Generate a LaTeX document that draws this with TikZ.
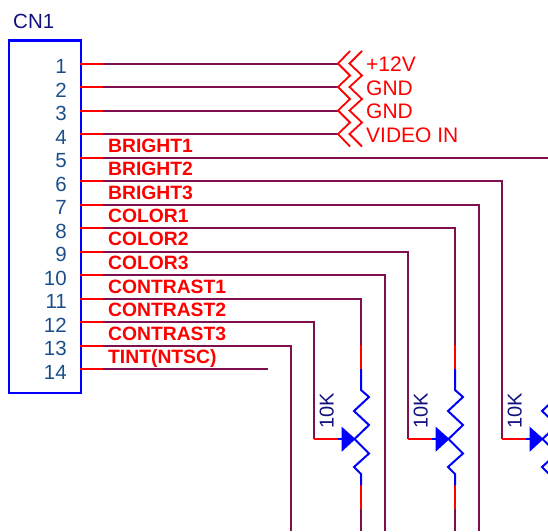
\documentclass[tikz,border=0pt]{standalone}
\usepackage{fontspec}
\setmainfont{Liberation Sans}
\definecolor{wirec}{HTML}{7F0F4F}
\definecolor{numc}{HTML}{1B4F8A}
\definecolor{refc}{HTML}{10107F}
\tikzset{
  wire/.style={draw=wirec,line width=2pt},
  stub/.style={draw=red,line width=2pt},
  body/.style={draw=blue,line width=2pt,line join=miter},
  chev/.style={draw=red,line width=1.8pt,line join=miter},
  pinnum/.style={anchor=base east,inner sep=0pt,text=numc,font=\fontsize{20.5}{20.5}\selectfont},
  netlab/.style={anchor=base west,inner sep=0pt,text=red,font=\fontsize{19.3}{19.3}\selectfont\bfseries},
  conlab/.style={anchor=base west,inner sep=0pt,text=red,font=\fontsize{21}{21}\selectfont},
  vallab/.style={anchor=base west,inner sep=0pt,text=refc,rotate=90,font=\fontsize{20}{20}\selectfont},
}
\begin{document}
\begin{tikzpicture}[x=1pt,y=-1pt]
\useasboundingbox (0,0) rectangle (548,531);
\clip (0,0) rectangle (548,531);
% connector body
\node[draw=blue,line width=2.2pt,outer sep=0pt,minimum width=72.5pt,minimum height=352.5pt,inner sep=0pt,anchor=north west] (cn) at (8.8,40.5) {};
\node[anchor=base west,inner sep=0pt,text=refc,font=\fontsize{20.5}{20.5}\selectfont] (cnlab) at (13,28) {CN1};
% pins
\foreach \n/\y in {1/63.5,2/87,3/110.5,4/134,5/157.5,6/181,7/204.5,8/228,9/251.5,10/275,11/298.5,12/322,13/345.5,14/369}{
  \coordinate (p\n) at (80,\y);
  \coordinate (q\n) at (103,\y);
  \node[pinnum] (num\n) at (67,\y+10) {\n};
}
% potentiometer anchor points
\coordinate (t1) at (361,345); \coordinate (w1) at (314,439);
\coordinate (t2) at (455,345); \coordinate (w2) at (408,439);
\coordinate (t3) at (549,345); \coordinate (w3) at (502,439);
% short wires to off-sheet connector
\foreach \n in {1,2,3,4}{ \coordinate (e\n) at (338,0 |- p\n); \draw[wire] (q\n) -- (e\n -| 338,0); }
% long wires
\coordinate (r5) at (548,157.5);
\coordinate (b7) at (479,531);
\coordinate (b10) at (385,531);
\coordinate (b13) at (291,531);
\coordinate (e14) at (268,369);
\draw[wire] (q5) -- (r5);
\draw[wire] (q6) -| (w3);
\draw[wire] (q7) -| (b7);
\draw[wire] (q8) -| (t2);
\draw[wire] (q9) -| (w2);
\draw[wire] (q10) -| (b10);
\draw[wire] (q11) -| (t1);
\draw[wire] (q12) -| (w1);
\draw[wire] (q13) -| (b13);
\draw[wire] (q14) -- (e14);
\foreach \n in {1,...,14}{ \draw[stub] (p\n) -- (q\n); }
% off-sheet chevrons
\draw[chev] (350,51)--(338,63.5)--(350,75.5)--(338,87)--(350,99)--(338,110.5)--(350,122.5)--(338,134)--(350,146.5);
\draw[chev] (362,51)--(349.5,63.5)--(362,75.5)--(349.5,87)--(362,99)--(349.5,110.5)--(362,122.5)--(349.5,134)--(362,146.5);
\node[conlab] (c1) at (366,71.5) {+12V};
\node[conlab] (c2) at (366,95) {GND};
\node[conlab] (c3) at (366,118) {GND};
\node[conlab] (c4) at (366,142) {VIDEO IN};
% net labels
\node[netlab] (l1) at (108,152) {BRIGHT1};
\node[netlab] (l2) at (108,175) {BRIGHT2};
\node[netlab] (l3) at (108,199) {BRIGHT3};
\node[netlab] (l4) at (108,222) {COLOR1};
\node[netlab] (l5) at (108,245) {COLOR2};
\node[netlab] (l6) at (108,269) {COLOR3};
\node[netlab] (l7) at (108,293) {CONTRAST1};
\node[netlab] (l8) at (108,316) {CONTRAST2};
\node[netlab] (l9) at (108,340) {CONTRAST3};
\node[netlab] (l10) at (108,363) {TINT(NTSC)};
% potentiometers
\foreach \i/\dx in {1/0,2/94,3/188}{
  \begin{scope}[shift={(\dx,0)}]
    \draw[wire] (361,345) -- (361,369);
    \draw[wire] (361,485) -- (361,531);
    \draw[stub] (361,345) -- (361,369);
    \draw[stub] (361,485) -- (361,509);
    \draw[stub] (314,439) -- (338,439);
    \draw[body] (361,369) -- (361,390) -- (369,397) -- (354,411) -- (369,425) -- (354.5,439) -- (369,453.5) -- (354,467) -- (361,474) -- (361,485);
    \draw[body] (338,439) -- (344,439);
    \fill[blue] (355.5,439) -- (341.7,426.7) -- (341.7,451.7) -- cycle;
    \node[vallab] (v\i) at (333.5,428.5) {10K};
  \end{scope}
}
\end{tikzpicture}
\end{document}
